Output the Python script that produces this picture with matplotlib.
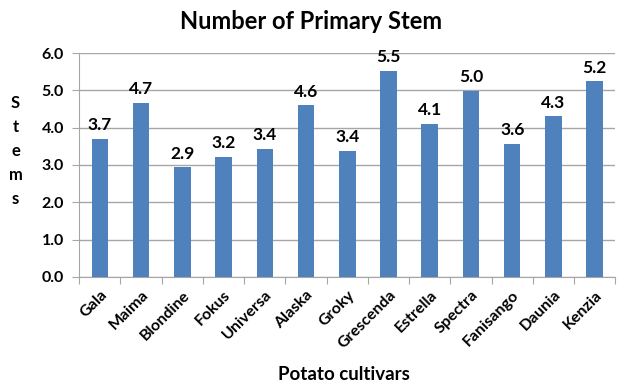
import matplotlib.pyplot as plt
import numpy as np

plt.rcParams['font.family'] = ['Lato', 'DejaVu Sans']

cultivars = ["Gala", "Maima", "Blondine", "Fokus", "Universa", "Alaska", "Groky",
             "Grescenda", "Estrella", "Spectra", "Fanisango", "Daunia", "Kenzia"]
stems = [3.7, 4.67, 2.94, 3.22, 3.44, 4.6, 3.38, 5.52, 4.1, 4.98, 3.57, 4.3, 5.24]
yticks = [0.0, 1.0, 2.0, 3.0, 4.0, 5.0, 6.0]

bar_color = "#4F81BD"
grid_color = "#A6A6A6"

fig = plt.figure(figsize=(6.19, 3.90), dpi=100)
ax = fig.add_axes([0.128, 0.290, 0.866, 0.574])

x = np.arange(len(cultivars))
ax.bar(x, stems, width=0.4, color=bar_color, zorder=3)

for xi, v in zip(x, stems):
    ax.text(xi, v + 0.15, f"{v:.1f}", ha="center", va="bottom",
            fontsize=12.5, fontweight="bold")

ax.set_xlim(-0.5, len(cultivars) - 0.5)
ax.set_ylim(0, 6)
ax.set_yticks(yticks)
ax.set_yticklabels([f"{t:.1f}" for t in yticks], fontsize=11.5, fontweight="bold")
ax.yaxis.grid(True, color=grid_color, linewidth=1, zorder=0)

# category ticks sit between bars, labels sit under bars
ax.set_xticks(np.arange(-0.5, len(cultivars)), minor=False)
ax.set_xticklabels([])
ax.set_xticks(x, minor=True)
ax.set_xticklabels(cultivars, minor=True, rotation=45, ha="right",
                   rotation_mode="anchor", fontsize=11.5, fontweight="bold")
ax.tick_params(axis="x", which="minor", length=0, pad=8)
ax.tick_params(axis="x", which="major", length=5, color=grid_color)
ax.tick_params(axis="y", length=5, color=grid_color, pad=6)

for side in ("top", "right"):
    ax.spines[side].set_visible(False)
for side in ("left", "bottom"):
    ax.spines[side].set_color(grid_color)

fig.text(0.502, 0.945, "Number of Primary Stem", ha="center", va="center",
         fontsize=17, fontweight="bold")
fig.text(0.555, 0.04, "Potato cultivars", ha="center", va="center",
         fontsize=13.5, fontweight="bold")
fig.text(0.025, 0.613, "S\nt\ne\nm\ns", ha="center", va="center",
         fontsize=12, fontweight="bold", linespacing=1.6)

fig.savefig("out.png", dpi=100)
